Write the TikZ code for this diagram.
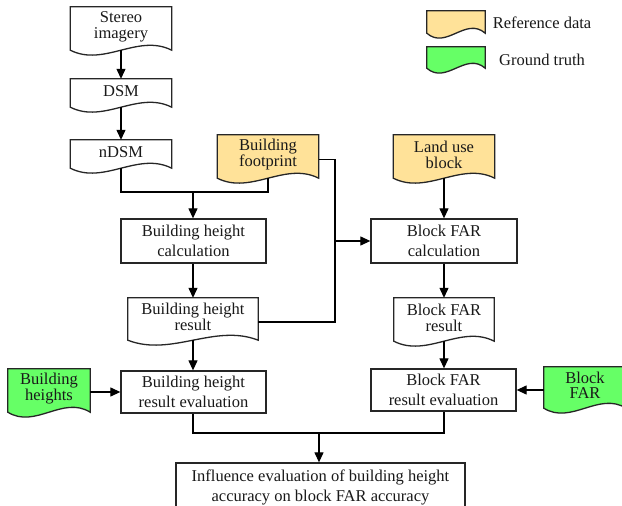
\documentclass[tikz,border=0pt]{standalone}
\usepackage{fontspec}
\setmainfont{Liberation Serif}
\usetikzlibrary{arrows.meta,calc}
\pgfdeclarelayer{bg}
\pgfsetlayers{bg,main}
\definecolor{refyellow}{RGB}{255,226,153}
\definecolor{gtgreen}{RGB}{102,255,102}
\tikzset{
  base/.style={inner sep=0pt, align=center, text=black!90},
  procbox/.style={base, draw=black!85, line width=1.3pt, fill=white, font=\fontsize{16.5}{20}\selectfont},
  docnode/.style={base, font=\fontsize{16.5}{16}\selectfont},
  gtnode/.style={base, font=\fontsize{16.5}{15}\selectfont},
  docline/.style={draw=black!85, line width=1.3pt},
  conn/.style={line width=1.2pt, draw=black},
  arr/.style={conn, -{Triangle[length=10pt,width=9pt]}},
  legtext/.style={base, font=\fontsize{16.5}{20}\selectfont}
}
\newcommand\docbg[2]{%
  \begin{pgfonlayer}{bg}
  \path[docline, fill=#2] (#1.north west) -- (#1.north east) -- ([yshift=-4pt]#1.south east)
    .. controls ($(#1.south east)!0.333!(#1.south west)+(0,-13)$) and ($(#1.south east)!0.667!(#1.south west)+(0,21)$) .. ([yshift=-4pt]#1.south west) -- cycle;
  \end{pgfonlayer}}
\begin{document}
\begin{tikzpicture}[x=1pt,y=-1pt]
\begin{pgfonlayer}{bg}
\fill[white] (0,0) rectangle (622,506);
\end{pgfonlayer}
\useasboundingbox (0,0) rectangle (622,506);

% document-shaped nodes
\node[docnode, minimum width=101pt, minimum height=39pt] (stereo) at (121,26.5) {Stereo\\imagery};
\docbg{stereo}{white}
\node[docnode, minimum width=101pt, minimum height=24pt] (dsm) at (121,91) {DSM};
\docbg{dsm}{white}
\node[docnode, minimum width=101pt, minimum height=24pt] (ndsm) at (121,152) {nDSM};
\docbg{ndsm}{white}
\node[docnode, minimum width=101pt, minimum height=39pt] (fp) at (268,154.5) {Building\\footprint};
\docbg{fp}{refyellow}
\node[docnode, minimum width=101pt, minimum height=39pt] (lu) at (444,154.5) {Land use\\block};
\docbg{lu}{refyellow}
\node[docnode, minimum width=130pt, minimum height=38pt] (bhres) at (193,317) {Building height\\result};
\docbg{bhres}{white}
\node[docnode, minimum width=100pt, minimum height=39pt] (bfres) at (444,317.5) {Block FAR\\result};
\docbg{bfres}{white}
\node[gtnode, minimum width=82pt, minimum height=39pt] (bhgt) at (49,388.5) {Building\\heights};
\docbg{bhgt}{gtgreen}
\node[gtnode, minimum width=82pt, minimum height=37pt] (bfgt) at (585,385.5) {Block\\FAR};
\docbg{bfgt}{gtgreen}

% legend
\node[base, minimum width=58pt, minimum height=18pt] (refleg) at (456,20) {};
\docbg{refleg}{refyellow}
\node[base, minimum width=58pt, minimum height=17pt] (gtleg) at (456,55.5) {};
\docbg{gtleg}{gtgreen}
\node[legtext] (reftext) at (542,23) {Reference data};
\node[legtext] (gttext) at (542,60) {Ground truth};

% process boxes
\node[procbox, minimum width=145pt, minimum height=44pt] (bhcalc) at (193.5,241) {Building height\\calculation};
\node[procbox, minimum width=146pt, minimum height=44pt] (bfcalc) at (444,241) {Block FAR\\calculation};
\node[procbox, minimum width=145pt, minimum height=42pt] (bheval) at (193.5,392) {Building height\\result evaluation};
\node[procbox, minimum width=145pt, minimum height=42pt] (bfeval) at (443.5,390) {Block FAR\\result evaluation};
\node[procbox, minimum width=289pt, minimum height=49pt] (final) at (320.5,487.5) {Influence evaluation of building height\\accuracy on block FAR accuracy};

% helper coordinates
\coordinate (j1) at (193,192);
\coordinate (bus) at (335,0);
\coordinate (j2) at (319,433);
\coordinate (fpin) at ([yshift=-5pt]fp.east);
\coordinate (bhout) at ([yshift=-5pt]bhres.east);

% connectors
\draw[arr] ([yshift=-4pt]stereo.south) -- (dsm.north);
\draw[arr] ([yshift=-4pt]dsm.south) -- (ndsm.north);
\draw[conn] ([yshift=-4pt]ndsm.south) |- (j1) -| ([yshift=-4pt]fp.south);
\draw[arr] (j1) -- (j1 |- bhcalc.north);
\draw[arr] (bhres.north |- bhcalc.south) -- (bhres.north);
\draw[conn] (bhout) -| (bus |- fpin) -- (fpin);
\draw[arr] (bus |- bfcalc.west) -- (bfcalc.west);
\draw[arr] ([yshift=-4pt]lu.south) -- (lu.south |- bfcalc.north);
\draw[arr] (bfcalc.south) -- (bfcalc.south |- bfres.north);
\draw[arr] ([yshift=-4pt]bfres.south) -- (bfres.south |- bfeval.north);
\draw[arr] ([yshift=-4pt]bhres.south) -- (bhres.south |- bheval.north);
\draw[arr] (bhgt.east |- bheval.west) -- (bheval.west);
\draw[arr] (bfgt.west |- bfeval.east) -- (bfeval.east);
\draw[conn] (bhres.south |- bheval.south) |- (j2) -| (bfres.south |- bfeval.south);
\draw[arr] (j2) -- (j2 |- final.north);
\end{tikzpicture}
\end{document}
